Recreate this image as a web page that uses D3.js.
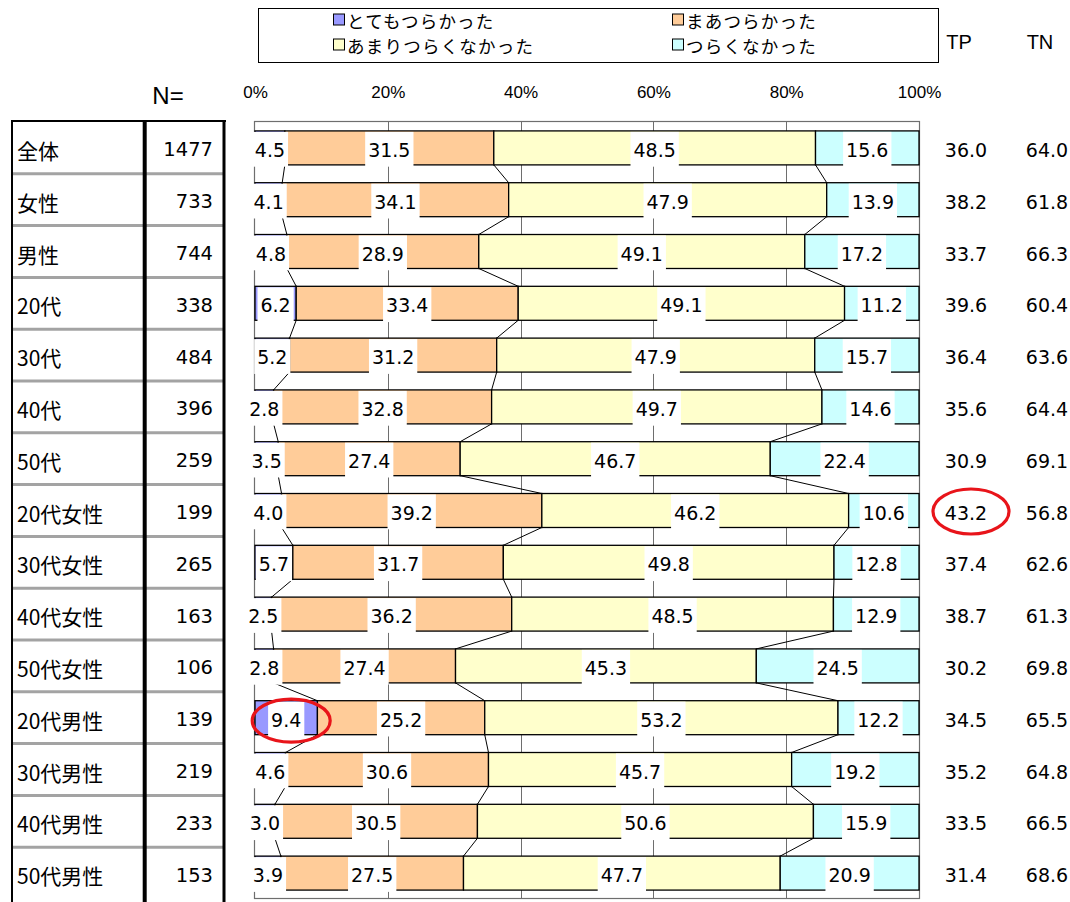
<!DOCTYPE html>
<html>
<head>
<meta charset="utf-8">
<script src="https://cdn.jsdelivr.net/npm/d3@7"></script>
<style>
  body { margin: 0; background: #fff; }
  svg { display: block; }
</style>
</head>
<body>
<svg id="chart" width="1070" height="902"></svg>
<script>
// Respondent groups and sample sizes
const groups = ["全体","女性","男性","20代","30代","40代","50代",
  "20代女性","30代女性","40代女性","50代女性","20代男性","30代男性","40代男性","50代男性"];
const sampleN = [1477,733,744,338,484,396,259,199,265,163,106,139,219,233,153];

// Answer shares (%) per group
const veryHard     = [4.5,4.1,4.8,6.2,5.2,2.8,3.5,4.0,5.7,2.5,2.8,9.4,4.6,3.0,3.9];
const somewhatHard = [31.5,34.1,28.9,33.4,31.2,32.8,27.4,39.2,31.7,36.2,27.4,25.2,30.6,30.5,27.5];
const notVeryHard  = [48.5,47.9,49.1,49.1,47.9,49.7,46.7,46.2,49.8,48.5,45.3,53.2,45.7,50.6,47.7];
const notHard      = [15.6,13.9,17.2,11.2,15.7,14.6,22.4,10.6,12.8,12.9,24.5,12.2,19.2,15.9,20.9];

// Top-two / bottom-two totals
const tpValues = [36.0,38.2,33.7,39.6,36.4,35.6,30.9,43.2,37.4,38.7,30.2,34.5,35.2,33.5,31.4];
const tnValues = [64.0,61.8,66.3,60.4,63.6,64.4,69.1,56.8,62.6,61.3,69.8,65.5,64.8,66.5,68.6];

const seriesNames  = ["とてもつらかった","まあつらかった","あまりつらくなかった","つらくなかった"];
const seriesColors = ["#9999FF","#FFCC99","#FFFFCC","#CCFFFF"];
const xTicks = [0,20,40,60,80,100];

const seriesValues = [veryHard, somewhatHard, notVeryHard, notHard];
const rows = groups.map((g, i) => {
  const r = { group: g };
  seriesValues.forEach((arr, k) => { r[k] = arr[i]; });
  return r;
});

const NUM_FONT = "'DejaVu Sans', Verdana, sans-serif";
const JP_FONT = "'Noto Sans CJK JP', 'Noto Sans', sans-serif";
const SANS = "'Liberation Sans', Arial, sans-serif";

const svg = d3.select("#chart");

const plot = { left: 255, right: 919, top: 122, bottom: 899 };
const x = d3.scaleLinear().domain([0, 100]).range([plot.left, plot.right]);
const y = d3.scaleBand().domain(groups).range([plot.top, plot.bottom])
  .paddingInner(0.344).paddingOuter(0.172);
const bw = y.bandwidth();
const step = y.step();

// ---------- legend ----------
const legend = svg.append("g");
legend.append("rect").attr("x", 258.5).attr("y", 8.5).attr("width", 680).attr("height", 54)
  .attr("fill", "#fff").attr("stroke", "#000").attr("stroke-width", 1);
const legendPos = [[333, 20.5], [672, 20.5], [333, 45.5], [672, 45.5]];
seriesNames.forEach((name, k) => {
  const [lx, ly] = legendPos[k];
  legend.append("rect").attr("x", lx + 0.5).attr("y", ly - 6.5).attr("width", 11).attr("height", 11)
    .attr("fill", seriesColors[k]).attr("stroke", "#000").attr("stroke-width", 1);
  legend.append("text").attr("x", lx + 14).attr("y", ly)
    .attr("dominant-baseline", "central")
    .attr("font-family", JP_FONT).attr("font-size", 17.5).attr("letter-spacing", 1.2)
    .attr("fill", "#000")
    .text(name);
});

// column headers
svg.append("text").attr("x", 959).attr("y", 49).attr("text-anchor", "middle")
  .attr("font-family", SANS).attr("font-size", 20).text("TP");
svg.append("text").attr("x", 1040).attr("y", 49).attr("text-anchor", "middle")
  .attr("font-family", SANS).attr("font-size", 20).text("TN");
svg.append("text").attr("x", 168).attr("y", 104).attr("text-anchor", "middle")
  .attr("font-family", SANS).attr("font-size", 24).text("N=");

// ---------- percent axis ----------
const axis = svg.append("g").attr("transform", "translate(0,98)")
  .call(d3.axisTop(x).tickValues(xTicks).tickFormat(d => d + "%").tickSize(0).tickPadding(0));
axis.select(".domain").remove();
axis.selectAll("text").attr("font-family", SANS).attr("font-size", 17).attr("fill", "#000");

// ---------- gridlines & plot frame ----------
svg.append("g").selectAll("line").data(xTicks.slice(1, -1)).join("line")
  .attr("x1", d => Math.round(x(d)) + 0.5).attr("x2", d => Math.round(x(d)) + 0.5)
  .attr("y1", plot.top).attr("y2", plot.bottom)
  .attr("stroke", "#6e6e6e").attr("stroke-width", 1);
svg.append("rect").attr("x", plot.left - 0.5).attr("y", plot.top - 0.5)
  .attr("width", plot.right - plot.left + 1).attr("height", plot.bottom - plot.top)
  .attr("fill", "none").attr("stroke", "#6e6e6e").attr("stroke-width", 1.2);

// ---------- stacked bars ----------
const stacked = d3.stack().keys([0, 1, 2, 3]).offset(d3.stackOffsetExpand)(rows);

const barG = svg.append("g");
stacked.forEach((layer, k) => {
  barG.append("g").selectAll("rect").data(layer).join("rect")
    .attr("x", d => x(d[0] * 100))
    .attr("y", d => y(d.data.group))
    .attr("width", d => x(d[1] * 100) - x(d[0] * 100))
    .attr("height", bw)
    .attr("fill", seriesColors[k])
    .attr("stroke", "#000").attr("stroke-width", 1.3);
});

// series lines joining segment boundaries between neighbouring bars
const seriesLineG = svg.append("g");
for (let k = 0; k < 3; k++) {
  const layer = stacked[k];
  for (let i = 0; i < groups.length - 1; i++) {
    seriesLineG.append("line")
      .attr("x1", x(layer[i][1] * 100)).attr("y1", y(groups[i]) + bw)
      .attr("x2", x(layer[i + 1][1] * 100)).attr("y2", y(groups[i + 1]))
      .attr("stroke", "#000").attr("stroke-width", 1);
  }
}

// ---------- value labels with white boxes ----------
const labelG = svg.append("g");
stacked.forEach((layer, k) => {
  layer.forEach((d, i) => {
    const cx = x((d[0] + d[1]) / 2 * 100);
    const top = y(d.data.group);
    const g = labelG.append("g");
    const box = g.append("rect").attr("fill", "#fff");
    const t = g.append("text")
      .attr("x", cx).attr("y", top + bw / 2 + 2)
      .attr("text-anchor", "middle").attr("dominant-baseline", "central")
      .attr("font-family", NUM_FONT).attr("font-size", 19).attr("fill", "#000")
      .text(seriesValues[k][i].toFixed(1));
    const w = t.node().getBBox().width + 6;
    box.attr("x", cx - w / 2).attr("width", w)
      .attr("y", top + 1).attr("height", bw + 0.8);
  });
});

// ---------- TP / TN columns ----------
const sideG = svg.append("g").attr("font-family", NUM_FONT).attr("font-size", 19)
  .attr("text-anchor", "middle").attr("dominant-baseline", "central");
groups.forEach((g, i) => {
  const cy = y(g) + bw / 2 + 2;
  sideG.append("text").attr("x", 966).attr("y", cy).text(tpValues[i].toFixed(1));
  sideG.append("text").attr("x", 1047).attr("y", cy).text(tnValues[i].toFixed(1));
});

// ---------- group table ----------
const table = svg.append("g");
groups.forEach((g, i) => {
  if (i > 0) {
    const sy = plot.top + i * step;
    table.append("line").attr("x1", 12).attr("x2", 225).attr("y1", sy).attr("y2", sy)
      .attr("stroke", "#a3a3a3").attr("stroke-width", 3);
  }
  const cy = y(g) + bw / 2 + 2;
  table.append("text").attr("x", 17).attr("y", cy).attr("dominant-baseline", "central")
    .attr("font-family", JP_FONT).attr("font-size", 21).text(g);
  table.append("text").attr("x", 213).attr("y", cy).attr("dominant-baseline", "central")
    .attr("text-anchor", "end").attr("font-family", NUM_FONT).attr("font-size", 19.5)
    .text(sampleN[i]);
});
table.append("line").attr("x1", 11).attr("x2", 226).attr("y1", 121).attr("y2", 121)
  .attr("stroke", "#000").attr("stroke-width", 2);
table.append("line").attr("x1", 12).attr("x2", 12).attr("y1", 120).attr("y2", 902)
  .attr("stroke", "#000").attr("stroke-width", 2);
table.append("line").attr("x1", 144.7).attr("x2", 144.7).attr("y1", 120).attr("y2", 902)
  .attr("stroke", "#000").attr("stroke-width", 4);
table.append("line").attr("x1", 224).attr("x2", 224).attr("y1", 120).attr("y2", 902)
  .attr("stroke", "#000").attr("stroke-width", 3);

// ---------- highlight rings ----------
const iF20 = groups.indexOf("20代女性");
const iM20 = groups.indexOf("20代男性");
svg.append("ellipse")
  .attr("cx", 971).attr("cy", y(groups[iF20]) + bw / 2 + 1)
  .attr("rx", 38).attr("ry", 22.5)
  .attr("fill", "none").attr("stroke", "#e8141a").attr("stroke-width", 3.2);
const s0 = stacked[0][iM20];
svg.append("ellipse")
  .attr("cx", x((s0[0] + s0[1]) / 2 * 100) + 5).attr("cy", y(groups[iM20]) + bw / 2 + 3)
  .attr("rx", 39).attr("ry", 21.5)
  .attr("fill", "none").attr("stroke", "#e8141a").attr("stroke-width", 3.2);
</script>
</body>
</html>
